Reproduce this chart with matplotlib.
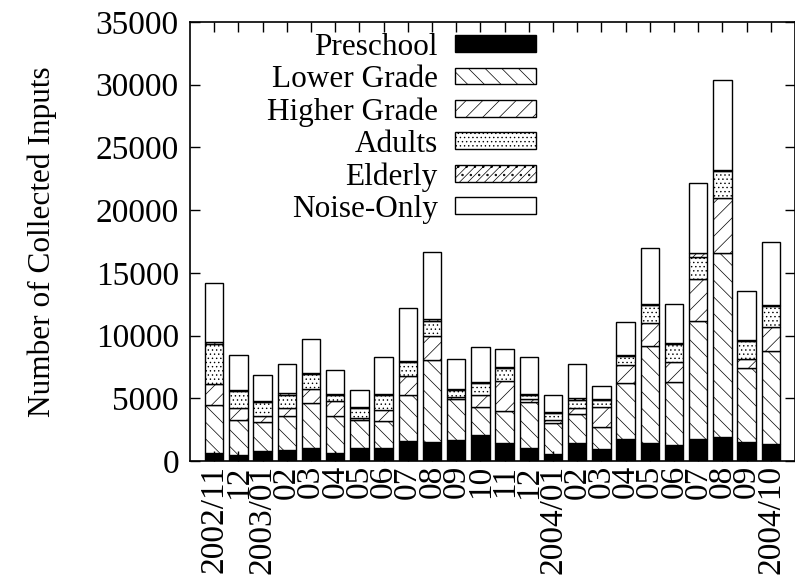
import matplotlib
matplotlib.use("Agg")
import matplotlib.pyplot as plt
import numpy as np

plt.rcParams['font.family'] = ['Liberation Serif', 'DejaVu Serif']
plt.rcParams['hatch.linewidth'] = 0.5

months = ["2002/11", "12", "2003/01", "02", "03", "04", "05", "06", "07", "08",
          "09", "10", "11", "12", "2004/01", "02", "03", "04", "05", "06",
          "07", "08", "09", "2004/10"]

preschool = [600, 450, 800, 900, 1000, 650, 1000, 1050, 1600, 1500, 1650, 2050,
             1400, 1050, 550, 1400, 950, 1750, 1450, 1300, 1750, 1900, 1550, 1350]
lower_grade = [3850, 2850, 2300, 2650, 3600, 2900, 2300, 2100, 3700, 6550, 3300, 2250,
               2600, 3650, 2450, 2350, 1750, 4450, 7750, 5000, 9400, 14650, 5900, 7450]
higher_grade = [1650, 950, 450, 650, 1150, 1200, 100, 950, 1450, 1900, 120, 950,
                2350, 230, 230, 450, 1600, 1480, 1800, 1570, 3330, 4450, 680, 1850]
adults = [3250, 1300, 1150, 1100, 1200, 500, 800, 1180, 1150, 1250, 630, 1000,
          1050, 370, 570, 700, 570, 720, 1400, 1480, 1820, 2100, 1420, 1700]
elderly = [150, 100, 100, 100, 100, 100, 70, 100, 100, 100, 80, 70,
           70, 60, 70, 90, 60, 80, 80, 90, 280, 130, 80, 100]
noise_only = [4700, 2800, 2050, 2300, 2700, 1900, 1430, 2920, 4200, 5350, 2370, 2780,
              1430, 2940, 1410, 2760, 1020, 2570, 4520, 3060, 5620, 7120, 3920, 5000]

series = [("Preschool", preschool), ("Lower Grade", lower_grade),
          ("Higher Grade", higher_grade), ("Adults", adults),
          ("Elderly", elderly), ("Noise-Only", noise_only)]
styles = {
    "Preschool": dict(facecolor="black", hatch=None),
    "Lower Grade": dict(facecolor="white", hatch="\\\\"),
    "Higher Grade": dict(facecolor="white", hatch="//"),
    "Adults": dict(facecolor="white", hatch="...."),
    "Elderly": dict(facecolor="white", hatch="////.."),
    "Noise-Only": dict(facecolor="white", hatch=None),
}

fig = plt.figure(figsize=(7.95, 5.79), dpi=100)
ax = fig.add_axes([190/795, 118/579, 605/795, 439/579])

x = np.arange(len(months))
bottom = np.zeros(len(months))
handles = []
for name, vals in series:
    st = styles[name]
    b = ax.bar(x, vals, 0.76, bottom=bottom, facecolor=st["facecolor"],
               edgecolor="black", linewidth=1.0, hatch=st["hatch"], label=name)
    handles.append(b)
    bottom += np.array(vals)

ax.set_xlim(-1, 24)
ax.set_ylim(0, 35000)
ax.set_yticks(np.arange(0, 35001, 5000))
ax.set_xticks(x)
ax.set_xticklabels(months, rotation=90, ha="center", va="top")
ax.tick_params(axis="both", direction="in", length=7, width=1,
               top=True, right=True)
ax.tick_params(axis="x", labelsize=24, pad=3)
ax.tick_params(axis="y", labelsize=24, pad=8)
for s in ax.spines.values():
    s.set_linewidth(1.2)
ax.set_ylabel("Number of Collected Inputs", fontsize=22.5)
ax.yaxis.set_label_coords(-0.22, 0.5)

leg = ax.legend(handles=handles, loc="upper right", bbox_to_anchor=(536/795, 1 - 33/579),
                bbox_transform=fig.transFigure, frameon=False, markerfirst=False,
                fontsize=22.5, handlelength=2.6, handleheight=0.45, handletextpad=0.55,
                labelspacing=0.1, borderpad=0, borderaxespad=0)

fig.savefig("out.png", dpi=100)
